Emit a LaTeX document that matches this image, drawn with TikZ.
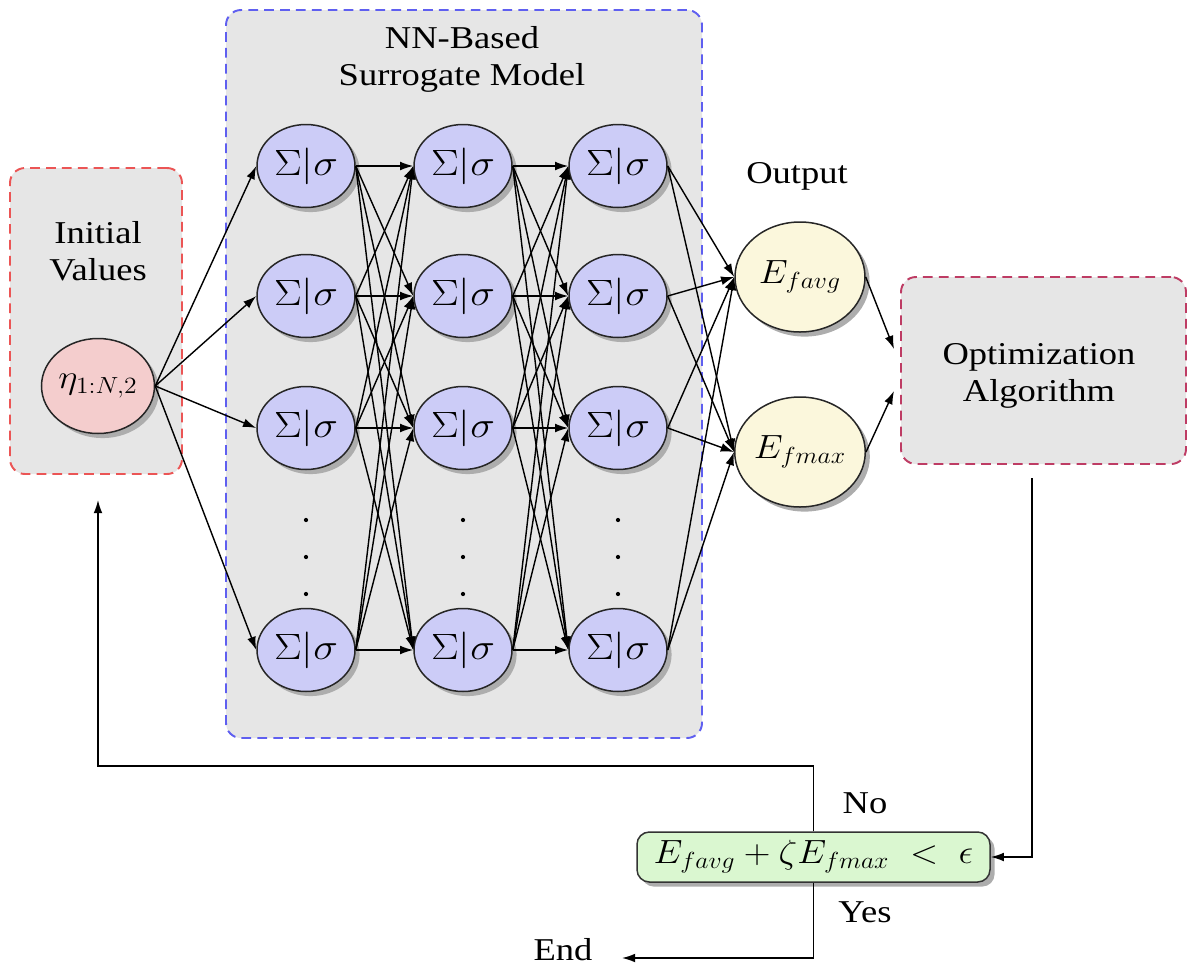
\documentclass[tikz,border=0pt]{standalone}
\usepackage[no-math]{fontspec}
\setmainfont[FakeStretch=1.15]{Liberation Serif}
\usetikzlibrary{shapes.geometric,shadows,arrows.meta}

\newcommand\pxu{0.5665pt}
% math enlarged from its 17.28pt design size, a little wider than tall
\newcommand\widemath[1]{\scalebox{1.21}[1.1]{$#1$}}
\newcommand\neuronlabel{\scalebox{1.36}[1.2]{$\Sigma|\sigma$}}

\definecolor{regiongray}{RGB}{230,230,230}
\definecolor{hiddenfill}{RGB}{204,204,247}
\definecolor{inputfill}{RGB}{244,205,205}
\definecolor{outputfill}{RGB}{251,247,220}
\definecolor{condfill}{RGB}{218,247,208}
\definecolor{reddash}{RGB}{235,85,85}
\definecolor{bluedash}{RGB}{95,95,240}
\definecolor{optdash}{RGB}{190,60,100}

\tikzset{
  region/.style={rectangle, rounded corners=8.5pt, fill=regiongray, line width=1.1pt,
    dash pattern=on 5.5pt off 3.5pt, inner sep=0pt, outer sep=0pt},
  nshadow/.style={drop shadow={shadow xshift=2.6pt, shadow yshift=-2.6pt, fill=black!32, opacity=1}},
  neuron/.style={ellipse, draw=black!85, line width=0.85pt, fill=hiddenfill, inner sep=0pt,
    minimum width=98*\pxu, minimum height=83*\pxu, font=\fontsize{17.28}{20}\selectfont, nshadow},
  inputnode/.style={neuron, fill=inputfill, minimum width=113*\pxu, minimum height=95*\pxu},
  outputnode/.style={neuron, fill=outputfill, minimum width=130*\pxu, minimum height=110*\pxu},
  condbox/.style={rectangle, rounded corners=7pt, draw=black!80, line width=0.85pt, fill=condfill,
    minimum width=353*\pxu, minimum height=50*\pxu, inner sep=0pt, font=\fontsize{17.28}{20}\selectfont,
    nshadow},
  label/.style={font=\fontsize{18}{21}\selectfont, inner sep=0pt},
  title/.style={label, align=center},
  conn/.style={draw=black, line width=0.8pt, -{Latex[length=7.5pt,width=5pt]}},
}

\begin{document}
\begin{tikzpicture}[x=\pxu, y=-\pxu]
\useasboundingbox (0,0) rectangle (1188,967);

% grey regions
\node[region, draw=reddash, minimum width=172*\pxu, minimum height=306*\pxu] (initbox) at (96,321) {};
\node[region, draw=bluedash, minimum width=476*\pxu, minimum height=728*\pxu] (nnbox) at (464,374) {};
\node[region, draw=optdash, minimum width=285*\pxu, minimum height=187*\pxu] (optbox) at (1043.5,370.5) {};

% region titles
\node[title] (inittitle) at (98,251) {Initial\\Values};
\node[title] (nntitle) at (462,59) {NN-Based\\Surrogate Model};
\node[title] (opttitle) at (1039,376) {Optimization\\Algorithm};
\node[label] (outtitle) at (797,176) {Output};

% input neuron
\node[inputnode] (inp) at (98,386) {\widemath{\eta_{1:N,2}}};

% hidden layers
\foreach \c/\x in {1/306,2/463,3/618}{
  \foreach \r/\y in {1/166,2/296,3/428,4/650}{
    \node[neuron] (h\c\r) at (\x,\y) {\neuronlabel};
  }
  \foreach \y in {520,557,594}{
    \fill (\x,\y) circle (1.2pt);
  }
}

% output neurons
\node[outputnode] (eavg) at (800,277) {\widemath{E_{favg}}};
\node[outputnode] (emax) at (800,452) {\widemath{E_{fmax}}};

% stopping test
\node[condbox] (cond) at (813.5,857) {\widemath{E_{favg} + \zeta E_{fmax} \;<\; \epsilon}};

% connections of the network
\foreach \r in {1,...,4}{
  \draw[conn] (inp.east) -- (h1\r.west);
}
\foreach \a in {1,...,4}{
  \foreach \b in {1,...,4}{
    \draw[conn] (h1\a.east) -- (h2\b.west);
    \draw[conn] (h2\a.east) -- (h3\b.west);
  }
}
\foreach \a in {1,...,4}{
  \draw[conn] (h3\a.east) -- (eavg.west);
  \draw[conn] (h3\a.east) -- (emax.west);
}

% outputs into the optimizer
\coordinate (optin1) at (894,349);
\coordinate (optin2) at (894,391);
\draw[conn] (eavg.east) -- (optin1);
\draw[conn] (emax.east) -- (optin2);

% optimizer to stopping test
\coordinate (optout) at (1032,478);
\draw[conn] (optout) |- (cond.east);

% feedback loop (No)
\coordinate (fbturn) at (98,766);
\coordinate (fbin) at (98,500);
\draw[conn] (cond.north) |- (fbturn) -- (fbin);
\node[label] (nolabel) at (865,803) {No};

% exit (Yes)
\coordinate (endtip) at (622,958);
\draw[conn] (cond.south) |- (endtip);
\node[label] (yeslabel) at (865,912) {Yes};
\node[label] (endlabel) at (563,950) {End};
\end{tikzpicture}
\end{document}
